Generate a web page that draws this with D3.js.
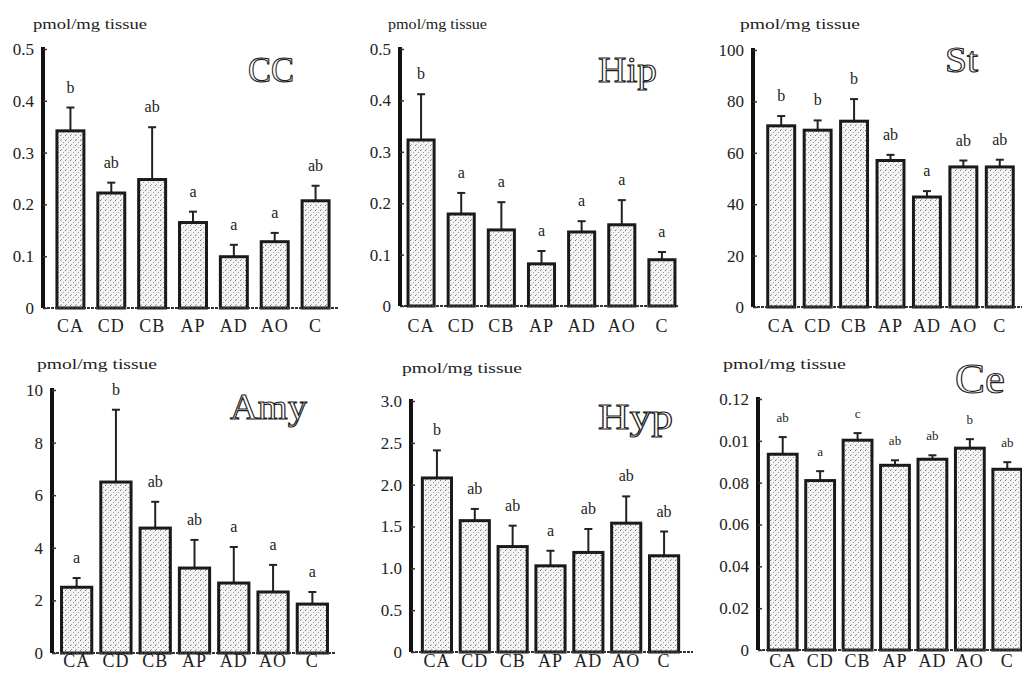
<!DOCTYPE html>
<html>
<head>
<meta charset="utf-8">
<script src="https://cdn.jsdelivr.net/npm/d3@7"></script>
<style>
  body { margin: 0; background: #fff; }
  text { font-family: "Liberation Serif", "DejaVu Serif", serif; fill: #222; }
  .tick text { font-size: 17px; }
  .cat { font-size: 18px; letter-spacing: 1px; }
  .sig { font-size: 16px; }
  .unit { font-size: 15px; }
  .title { fill: #fff; stroke: #222; stroke-width: 1.1px; }
</style>
</head>
<body>
<div class="chart"></div>
<script>
// groups shared by all six regions
var groups = ["CA", "CD", "CB", "AP", "AD", "AO", "C"];

// CC
var ccMean = [0.342, 0.222, 0.248, 0.165, 0.099, 0.128, 0.207];
var ccSE   = [0.045, 0.020, 0.101, 0.021, 0.023, 0.017, 0.029];
var ccSig  = ["b", "ab", "ab", "a", "a", "a", "ab"];
var ccTicks = [0, 0.1, 0.2, 0.3, 0.4, 0.5];
var ccTickLabels = ["0", "0.1", "0.2", "0.3", "0.4", "0.5"];

// Hip
var hipMean = [0.323, 0.179, 0.148, 0.082, 0.144, 0.158, 0.090];
var hipSE   = [0.089, 0.041, 0.054, 0.025, 0.021, 0.048, 0.015];
var hipSig  = ["b", "a", "a", "a", "a", "a", "a"];
var hipTicks = [0, 0.1, 0.2, 0.3, 0.4, 0.5];
var hipTickLabels = ["0", "0.1", "0.2", "0.3", "0.4", "0.5"];

// St
var stMean = [70.5, 68.8, 72.3, 57.0, 42.8, 54.5, 54.5];
var stSE   = [3.8, 3.8, 8.6, 2.2, 2.3, 2.5, 2.8];
var stSig  = ["b", "b", "b", "ab", "a", "ab", "ab"];
var stTicks = [0, 20, 40, 60, 80, 100];
var stTickLabels = ["0", "20", "40", "60", "80", "100"];

// Amy
var amyMean = [2.50, 6.50, 4.75, 3.23, 2.66, 2.32, 1.86];
var amySE   = [0.35, 2.75, 1.00, 1.07, 1.37, 1.03, 0.46];
var amySig  = ["a", "b", "ab", "ab", "a", "a", "a"];
var amyTicks = [0, 2, 4, 6, 8, 10];
var amyTickLabels = ["0", "2", "4", "6", "8", "10"];

// Hyp
var hypMean = [2.08, 1.57, 1.26, 1.03, 1.19, 1.54, 1.15];
var hypSE   = [0.33, 0.14, 0.25, 0.18, 0.28, 0.32, 0.29];
var hypSig  = ["b", "ab", "ab", "a", "ab", "ab", "ab"];
var hypTicks = [0, 0.5, 1, 1.5, 2, 2.5, 3];
var hypTickLabels = ["0", "0.5", "1.0", "1.5", "2.0", "2.5", "3.0"];

// Ce
var ceMean = [0.0936, 0.0810, 0.1003, 0.0883, 0.0912, 0.0965, 0.0864];
var ceSE   = [0.0082, 0.0045, 0.0034, 0.0024, 0.0019, 0.0043, 0.0034];
var ceSig  = ["ab", "a", "c", "ab", "ab", "b", "ab"];
var ceTicks = [0, 0.02, 0.04, 0.06, 0.08, 0.10, 0.12];
var ceTickLabels = ["0", "0.02", "0.04", "0.06", "0.08", "0.01", "0.12"];

var unitLabel = "pmol/mg tissue";

// layout of each panel (pixels)
var panels = [
  { name: "CC",  mean: ccMean,  se: ccSE,  sig: ccSig,  ticks: ccTicks,  labels: ccTickLabels,  max: 0.5,
    ax: 43,  axEnd: 338,  band: [50, 336],    pad: 0.34, y0: 308, y1: 49, catY: 332,
    unit: [33, 29, 114],  title: [248, 82, 46] },
  { name: "Hip", mean: hipMean, se: hipSE, sig: hipSig, ticks: hipTicks, labels: hipTickLabels, max: 0.5,
    ax: 400, axEnd: 678,  band: [401, 682],   pad: 0.35, y0: 306, y1: 49, catY: 332,
    unit: [388, 29, 99],  title: [598, 82, 59] },
  { name: "St",  mean: stMean,  se: stSE,  sig: stSig,  ticks: stTicks,  labels: stTickLabels,  max: 100,
    ax: 753, axEnd: 1022, band: [763, 1018],  pad: 0.26, y0: 307, y1: 50, catY: 332,
    unit: [740, 29, 120], title: [945, 72, 33] },
  { name: "Amy", mean: amyMean, se: amySE, sig: amySig, ticks: amyTicks, labels: amyTickLabels, max: 10,
    ax: 52,  axEnd: 336,  band: [57, 332],    pad: 0.23, y0: 653, y1: 390, catY: 667,
    unit: [37, 369, 120], title: [230, 419, 77] },
  { name: "Hyp", mean: hypMean, se: hypSE, sig: hypSig, ticks: hypTicks, labels: hypTickLabels, max: 3,
    ax: 411, axEnd: 693,  band: [418, 683],   pad: 0.23, y0: 652, y1: 401, catY: 667,
    unit: [402, 373, 120], title: [598, 429, 75] },
  { name: "Ce",  mean: ceMean,  se: ceSE,  sig: ceSig,  ticks: ceTicks,  labels: ceTickLabels,  max: 0.12,
    ax: 758, axEnd: 1022, band: [764, 1026],  pad: 0.23, y0: 650, y1: 399, catY: 667,
    unit: [723, 369, 123], title: [955, 393, 50] }
];

var svg = d3.select(".chart")
  .append("svg")
  .attr("width", 1022)
  .attr("height", 673);

// stippled fill for the bars
var pat = svg.append("defs").append("pattern")
  .attr("id", "stipple")
  .attr("width", 5).attr("height", 5)
  .attr("patternUnits", "userSpaceOnUse");
pat.append("rect").attr("width", 5).attr("height", 5).attr("fill", "#f4f4f4");
pat.append("rect").attr("x", 0).attr("y", 0).attr("width", 1).attr("height", 1).attr("fill", "#777");
pat.append("rect").attr("x", 3).attr("y", 2).attr("width", 1).attr("height", 1).attr("fill", "#999");
pat.append("rect").attr("x", 1).attr("y", 4).attr("width", 1).attr("height", 1).attr("fill", "#aaa");

panels.forEach(function(p) {
  var g = svg.append("g");

  var x = d3.scaleBand()
    .domain(groups)
    .range(p.band)
    .paddingInner(p.pad)
    .paddingOuter(p.pad / 2);

  var y = d3.scaleLinear()
    .domain([0, p.max])
    .range([p.y0, p.y1]);

  var rows = groups.map(function(d, i) {
    return { group: d, mean: p.mean[i], se: p.se[i], sig: p.sig[i] };
  });

  // error bars
  g.selectAll(".err")
    .data(rows)
    .enter().append("line")
      .attr("x1", function(d) { return x(d.group) + x.bandwidth() / 2; })
      .attr("x2", function(d) { return x(d.group) + x.bandwidth() / 2; })
      .attr("y1", function(d) { return y(d.mean); })
      .attr("y2", function(d) { return y(d.mean + d.se); })
      .attr("stroke", "#222")
      .attr("stroke-width", 2);

  g.selectAll(".cap")
    .data(rows)
    .enter().append("line")
      .attr("x1", function(d) { return x(d.group) + x.bandwidth() / 2 - 4; })
      .attr("x2", function(d) { return x(d.group) + x.bandwidth() / 2 + 4; })
      .attr("y1", function(d) { return y(d.mean + d.se); })
      .attr("y2", function(d) { return y(d.mean + d.se); })
      .attr("stroke", "#222")
      .attr("stroke-width", 2);

  // bars
  g.selectAll(".bar")
    .data(rows)
    .enter().append("rect")
      .attr("x", function(d) { return x(d.group); })
      .attr("y", function(d) { return y(d.mean); })
      .attr("width", x.bandwidth())
      .attr("height", function(d) { return p.y0 - y(d.mean); })
      .attr("fill", "url(#stipple)")
      .attr("stroke", "#1a1a1a")
      .attr("stroke-width", 3);

  // significance letters
  g.selectAll(".sig")
    .data(rows)
    .enter().append("text")
      .attr("class", "sig")
      .attr("text-anchor", "middle")
      .attr("x", function(d) { return x(d.group) + x.bandwidth() / 2; })
      .attr("y", function(d) { return y(d.mean + d.se) - 15; })
      .style("font-size", p.name === "Ce" ? "13px" : null)
      .text(function(d) { return d.sig; });

  // baseline
  g.append("line")
    .attr("x1", p.ax).attr("x2", p.axEnd)
    .attr("y1", p.y0).attr("y2", p.y0)
    .attr("stroke", "#333")
    .attr("stroke-width", 2)
    .attr("stroke-dasharray", "3,1");

  // y axis
  var leftAxis = d3.axisLeft(y)
    .tickValues(p.ticks)
    .tickFormat(function(d, i) { return p.labels[i]; })
    .tickSizeInner(-4)
    .tickSizeOuter(0)
    .tickPadding(9);

  var yAxis = g.append("g")
    .attr("transform", "translate(" + p.ax + ",0)")
    .call(leftAxis);
  yAxis.select(".domain")
    .attr("stroke", "#111")
    .attr("stroke-width", 4)
    .attr("d", "M0," + (p.y1 - 2) + "V" + p.y0);
  yAxis.selectAll(".tick line").attr("stroke", "#333").attr("stroke-width", 1.5);
  yAxis.selectAll(".tick text").attr("fill", "#222")
    .style("font-family", "'Liberation Serif', serif");

  // group labels
  g.selectAll(".cat")
    .data(groups)
    .enter().append("text")
      .attr("class", "cat")
      .attr("text-anchor", "middle")
      .attr("x", function(d) { return x(d) + x.bandwidth() / 2; })
      .attr("y", p.catY)
      .text(function(d) { return d; });

  // unit label
  g.append("text")
    .attr("class", "unit")
    .attr("x", p.unit[0])
    .attr("y", p.unit[1])
    .attr("textLength", p.unit[2])
    .attr("lengthAdjust", "spacingAndGlyphs")
    .text(unitLabel);

  // region title
  g.append("text")
    .attr("class", "title")
    .attr("x", p.title[0])
    .attr("y", p.title[1])
    .attr("textLength", p.title[2])
    .attr("lengthAdjust", "spacingAndGlyphs")
    .style("font-size", p.name === "Ce" ? "42px" : "36px")
    .text(p.name);
});
</script>
</body>
</html>
